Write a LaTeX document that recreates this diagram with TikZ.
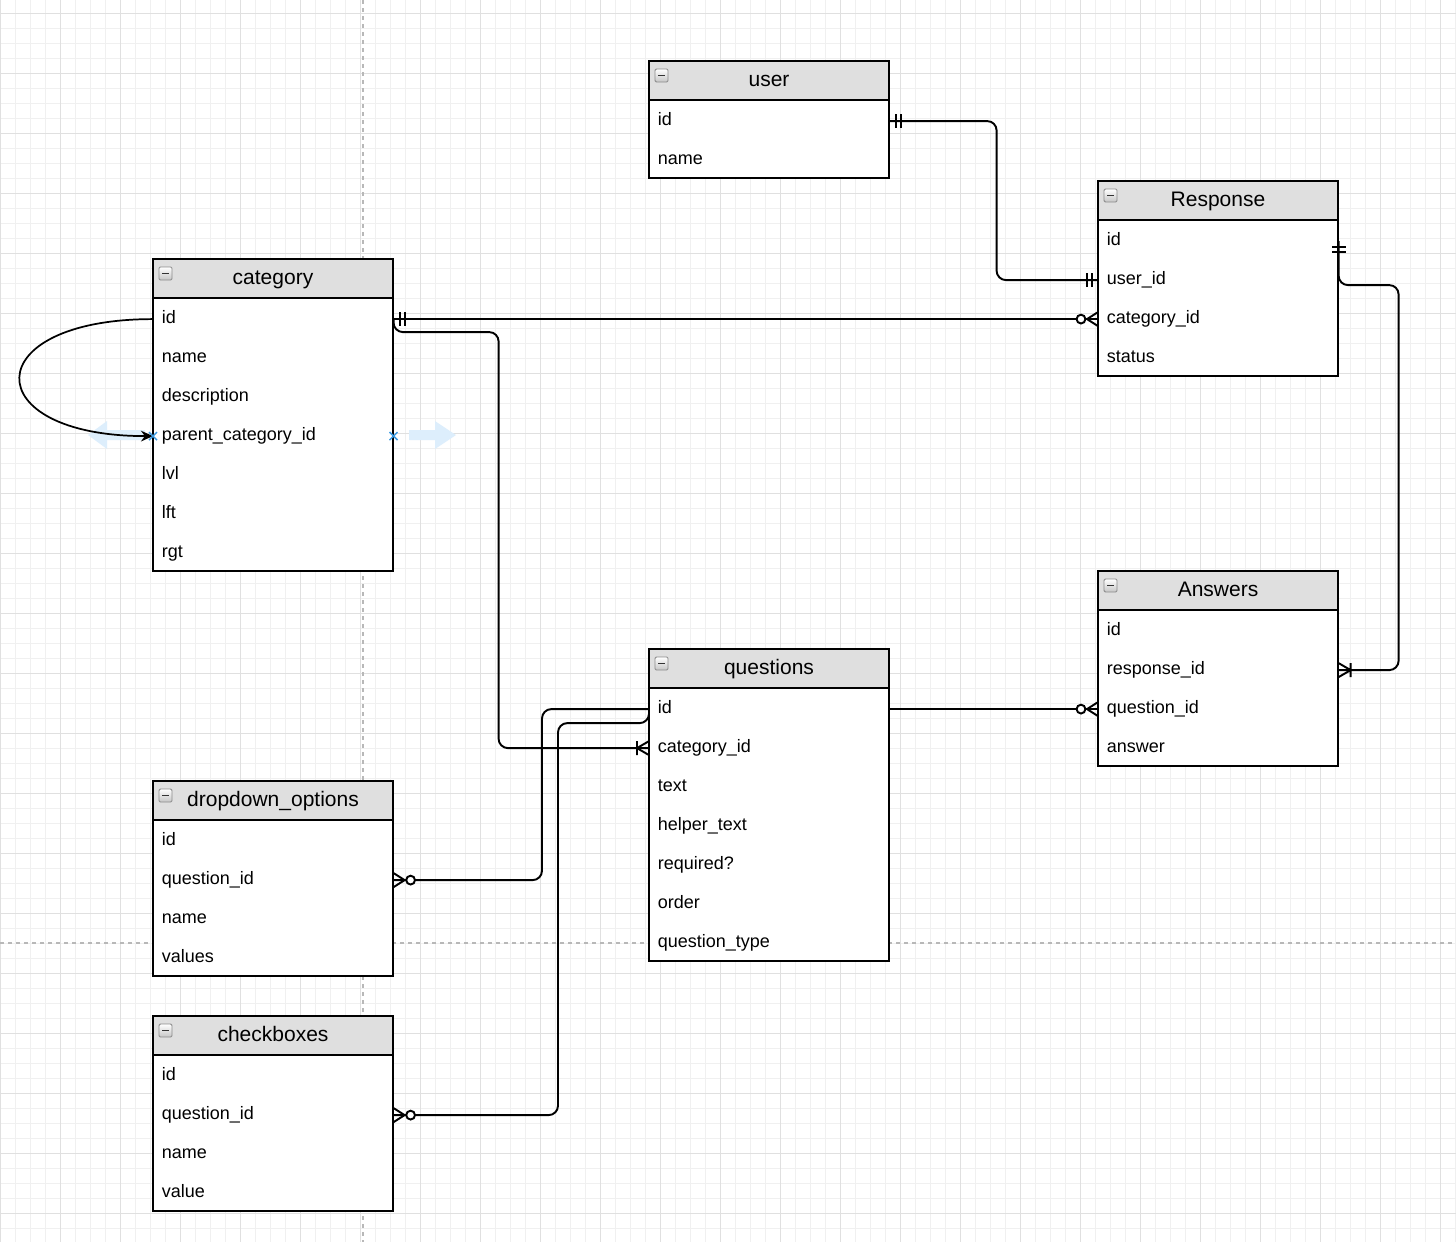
\documentclass[tikz,border=0pt]{standalone}
\usepackage{fontspec}
\setmainfont{Liberation Sans}
\usetikzlibrary{arrows.meta,calc}
\definecolor{hdrgray}{HTML}{DFDFDF}
\definecolor{gridminor}{HTML}{F0F0F0}
\definecolor{gridmajor}{HTML}{E0E0E0}
\definecolor{guidegray}{HTML}{B8B8B8}
\definecolor{hoverblue}{HTML}{DDEEFC}
\definecolor{markblue}{HTML}{3B9AE1}
\newcommand{\rowfnt}{\fontsize{13.5pt}{16pt}\selectfont}
\newcommand{\hdrfnt}{\fontsize{15.75pt}{18pt}\selectfont}
% #1 name, #2 x, #3 y, #4 title, #5 rows, #6 number of rows
\newcommand{\ertable}[6]{%
  \fill[white] (#2,#3) rectangle ++(240,39+39*#6);
  \fill[hdrgray] (#2,#3) rectangle ++(240,39);
  \node[hdrtxt] (#1) at (#2+120,#3+20) {#4};
  \draw[iconbox] (#2+6,#3+8) rectangle ++(13,13);
  \draw[iconminus] (#2+9,#3+14.5) -- ++(7,0);
  \foreach \r [count=\i] in {#5} {
    \node[rowtxt] (#1-\i) at (#2,#3+19.5+39*\i) {\r};
  }
  \draw[tbl] (#2,#3) rectangle ++(240,39+39*#6);
  \draw[tbl] (#2,#3+39) -- ++(240,0);
}
\begin{document}
\begin{tikzpicture}[x=0.75pt,y=-0.75pt,
  conn/.style={draw=black,line width=1.45pt},
  tbl/.style={draw=black,line width=1.35pt},
  rowtxt/.style={anchor=west,text width=167.25pt,inner xsep=6.4pt,inner ysep=0pt,
    text height=10pt,text depth=3pt,
    minimum height=29.25pt,align=left,font=\rowfnt,yshift=-1.2pt},
  hdrtxt/.style={inner sep=0pt,font=\hdrfnt,text height=11.5pt,text depth=3.5pt},
  iconbox/.style={draw=gray!90,top color=white,bottom color=gray!45,line width=0.7pt,rounded corners=1pt},
  iconminus/.style={draw=black!80,line width=1.1pt},
  minorgrid/.style={draw=gridminor,line width=0.6pt},
  majorgrid/.style={draw=gridmajor,line width=0.6pt},
  guide/.style={draw=guidegray,line width=0.8pt,dash pattern=on 3pt off 3pt},
  mandone/.pic={\draw[conn] (6,-7)--(6,7) (11,-7)--(11,7);},
  zeromany/.pic={\draw[conn] (0,-7)--(11,0)--(0,7);
                 \draw[conn,fill=white] (17,0) circle[radius=3.3pt];},
  onemany/.pic={\draw[conn] (0,-7)--(12,0)--(0,7) (12,-7)--(12,7);},
  hoverarrow/.style={fill=hoverblue,draw=none},
  bluex/.style={draw=markblue,line width=1.1pt}
]
\useasboundingbox (0,0) rectangle (1456,1242);
\fill[white] (0,0) rectangle (1456,1242);
% grid
\foreach \x in {0,15,...,1455} \draw[minorgrid] (\x,0) -- (\x,1242);
\foreach \y in {13,28,...,1242} \draw[minorgrid] (0,\y) -- (1456,\y);
\foreach \x in {0,60,...,1455} \draw[majorgrid] (\x,0) -- (\x,1242);
\foreach \y in {13,73,...,1242} \draw[majorgrid] (0,\y) -- (1456,\y);
% guides
\draw[guide] (363,0) -- (363,1242);
\draw[guide] (0,943) -- (1456,943);

% tables
\ertable{user}{649}{61}{user}{id,name}{2}
\ertable{Response}{1098}{181}{Response}{id,user\_id,category\_id,status}{4}
\ertable{category}{153}{259}{category}{id,name,description,parent\_category\_id,lvl,lft,rgt}{7}
\ertable{Answers}{1098}{571}{Answers}{id,response\_id,question\_id,answer}{4}
\ertable{questions}{649}{649}{questions}{id,category\_id,text,helper\_text,required?,order,question\_type}{7}
\ertable{dropdown}{153}{781}{dropdown\_options}{id,question\_id,name,values}{4}
\ertable{checkboxes}{153}{1016}{checkboxes}{id,question\_id,name,value}{4}

% hover indicators
\fill[hoverarrow] (145,430) -- (107,430) -- (107,421) -- (88,435) -- (107,449) -- (107,440) -- (145,440) -- cycle;
\fill[hoverarrow] (409,430) -- (435,430) -- (435,421) -- (456,435) -- (435,449) -- (435,440) -- (409,440) -- cycle;

% connectors
\draw[conn,rounded corners=7pt] (user-1.east) -- ++(107,0) |- (Response-2.west);
\draw[conn] (category-1.east) -- (Response-3.west);
\draw[conn,rounded corners=7pt] (Response-1.east) -- ++(0,44) -- ++(60,0) |- (Answers-2.east);
\draw[conn,rounded corners=7pt] (category-1.east) -- ++(0,13) -- ++(105,0) |- (questions-2.west);
\draw[conn] (questions-1.east) -- (Answers-3.west);
\draw[conn,rounded corners=7pt] (questions-1.west) -- ++(-107,0) |- (dropdown-2.east);
\draw[conn,rounded corners=7pt] (questions-1.west) -- ++(0,14) -- ++(-91,0) |- (checkboxes-2.east);
\draw[conn,line width=1.3pt,-{Stealth[length=9pt,width=8pt]}] (category-1.west) .. controls +(-177,0) and +(-177,0) .. (category-4.west);

% markers
\pic at (user-1.east) {mandone};
\pic[rotate=180] at (Response-2.west) {mandone};
\pic at (category-1.east) {mandone};
\pic[rotate=180] at (Response-3.west) {zeromany};
\pic[rotate=-90] at (Response-1.east) {mandone};
\pic at (Answers-2.east) {onemany};
\pic[rotate=180] at (questions-2.west) {onemany};
\pic[rotate=180] at (Answers-3.west) {zeromany};
\pic at (dropdown-2.east) {zeromany};
\pic at (checkboxes-2.east) {zeromany};

% blue x marks
\draw[bluex] ($(category-4.west)+(-4,-4)$) -- ($(category-4.west)+(4,4)$)
             ($(category-4.west)+(-4,4)$) -- ($(category-4.west)+(4,-4)$);
\draw[bluex] ($(category-4.east)+(-4,-4)$) -- ($(category-4.east)+(4,4)$)
             ($(category-4.east)+(-4,4)$) -- ($(category-4.east)+(4,-4)$);
\end{tikzpicture}
\end{document}
